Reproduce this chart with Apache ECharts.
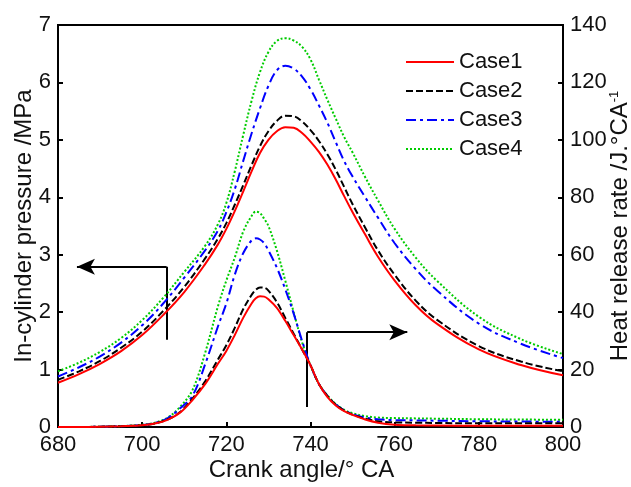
<!DOCTYPE html>
<html>
<head>
<meta charset="utf-8">
<script src="https://cdn.jsdelivr.net/npm/echarts@6/dist/echarts.min.js"></script>
<style>
  html, body { margin: 0; padding: 0; background: #ffffff; }
  #chart { width: 631px; height: 487px; }
</style>
</head>
<body>
<div id="chart"></div>
<script>
// Crank angle samples (°CA) for the in-cylinder pressure curves
const pressureAngle = [680, 685, 690, 695, 700, 705, 710, 715, 718, 720, 722, 724, 726, 728, 730,
  732, 734, 736, 738, 740, 742, 744, 746, 748, 750, 753, 756, 760, 765, 770, 780, 790, 800];

// In-cylinder pressure, MPa
const pressureCase1 = [0.77, 0.92, 1.10, 1.32, 1.60, 1.95, 2.35, 2.84, 3.18, 3.45, 3.76, 4.10, 4.45, 4.77, 5.00,
  5.15, 5.22, 5.21, 5.12, 4.97, 4.79, 4.57, 4.31, 4.02, 3.74, 3.35, 2.97, 2.55, 2.12, 1.80, 1.35, 1.08, 0.90];
const pressureCase2 = [0.82, 0.97, 1.15, 1.38, 1.66, 2.02, 2.44, 2.94, 3.28, 3.55, 3.87, 4.21, 4.56, 4.89, 5.15,
  5.33, 5.42, 5.41, 5.32, 5.17, 4.98, 4.75, 4.48, 4.18, 3.88, 3.47, 3.08, 2.65, 2.20, 1.87, 1.41, 1.14, 0.97];
const pressureCase3 = [0.88, 1.04, 1.23, 1.47, 1.77, 2.15, 2.60, 3.08, 3.42, 3.74, 4.14, 4.63, 5.11, 5.55, 5.94,
  6.21, 6.29, 6.24, 6.10, 5.88, 5.60, 5.30, 4.96, 4.63, 4.36, 4.00, 3.65, 3.20, 2.75, 2.38, 1.80, 1.45, 1.20];
const pressureCase4 = [0.97, 1.12, 1.31, 1.55, 1.86, 2.25, 2.70, 3.16, 3.53, 3.90, 4.45, 5.08, 5.68, 6.18, 6.53,
  6.72, 6.77, 6.73, 6.62, 6.40, 6.05, 5.70, 5.37, 5.05, 4.78, 4.35, 3.95, 3.45, 2.95, 2.55, 1.92, 1.53, 1.27];

// Crank angle samples (°CA) for the heat release rate curves
const hrrAngle = [680, 685, 690, 695, 700, 703, 706, 709, 712, 715, 718, 720, 722, 724, 726, 727, 728, 729, 730,
  732, 734, 736, 738, 740, 742, 744, 746, 748, 750, 753, 756, 760, 765, 770, 780, 790, 800];

// Heat release rate, J/°CA
const hrrCase1 = [0, 0, 0.1, 0.3, 0.6, 1.2, 2.5, 5.0, 9.5, 15, 22, 26.5, 32, 38, 43, 44.8, 45.5, 45.4, 44.5,
  41.5, 37, 32, 27, 21.5, 15, 10.5, 7.5, 5.5, 4.2, 2.6, 1.5, 0.8, 0.6, 0.5, 0.4, 0.4, 0.4];
const hrrCase2 = [0, 0, 0.1, 0.3, 0.6, 1.2, 2.6, 5.2, 10, 16, 23.5, 28.5, 34.5, 41, 46, 47.8, 48.6, 48.5, 47.5,
  43.5, 38, 32.5, 27, 21.5, 15, 10.8, 7.8, 5.7, 4.3, 2.9, 2.0, 1.6, 1.5, 1.4, 1.3, 1.3, 1.3];
const hrrCase3 = [0, 0, 0.1, 0.3, 0.7, 1.4, 3.0, 6.5, 11, 22, 35, 43, 53, 60.5, 65, 65.7, 65.3, 64, 61.5,
  55.5, 48, 39.5, 30, 21.5, 15, 10.8, 7.8, 5.8, 4.5, 3.3, 2.7, 2.4, 2.3, 2.2, 2.0, 1.9, 1.8];
const hrrCase4 = [0, 0, 0.1, 0.3, 0.8, 1.5, 3.2, 7.0, 13, 26, 42, 51, 59, 68, 73.5, 75, 74.5, 72.5, 70,
  61.5, 51, 40, 29.5, 21.5, 15, 11, 8, 6, 4.8, 3.8, 3.3, 3.1, 3.0, 2.9, 2.7, 2.6, 2.5];

const caseNames = ['Case1', 'Case2', 'Case3', 'Case4'];
const pressureData = [pressureCase1, pressureCase2, pressureCase3, pressureCase4];
const hrrData = [hrrCase1, hrrCase2, hrrCase3, hrrCase4];

// Axis ranges and tick steps
const angleMin = 680, angleMax = 800, angleStep = 20;
const pressureMax = 7, pressureStep = 1;
const hrrMax = 140, hrrStep = 20;

// Line appearance per case
const caseColors = ['#ff0000', '#000000', '#0000ff', '#00cc00'];
const caseDash = ['solid', [7, 3], [10, 4, 3, 4], [2, 2]];

// Annotation arrows pointing to each curve family's axis
const leftArrow = { x: 705.8, yLow: 1.52, yHigh: 2.79, tipX: 684.5 };   // pressure axis (MPa)
const rightArrow = { x: 739.2, yLow: 0.35, yHigh: 1.65, tipX: 763.0 };  // drawn in MPa units

const FONT = '"Liberation Sans", Arial, sans-serif';
const TICK_FONT = 22, NAME_FONT = 24;

function pairs(xs, ys) {
  return xs.map((x, i) => [x, ys[i]]);
}

const series = [];
caseNames.forEach((name, k) => {
  const style = { color: caseColors[k], width: 2, type: caseDash[k] };
  series.push({
    name: name,
    type: 'line',
    yAxisIndex: 0,
    data: pairs(pressureAngle, pressureData[k]),
    smooth: 0.4,
    symbol: 'none',
    itemStyle: { color: caseColors[k] },
    lineStyle: style,
    z: 10 - k
  });
  series.push({
    name: name,
    type: 'line',
    yAxisIndex: 1,
    data: pairs(hrrAngle, hrrData[k]),
    smooth: 0.35,
    symbol: 'none',
    itemStyle: { color: caseColors[k] },
    lineStyle: style,
    z: 10 - k
  });
});

// Arrows as mark lines on the first pressure series
series[0].markLine = {
  silent: true,
  animation: false,
  symbol: ['none', 'arrow'],
  symbolSize: [12, 18],
  label: { show: false },
  lineStyle: { color: '#000', width: 2, type: 'solid' },
  emphasis: { disabled: true },
  data: [
    [{ coord: [leftArrow.x, leftArrow.yLow], symbol: 'none' }, { coord: [leftArrow.x, leftArrow.yHigh], symbol: 'none' }],
    [{ coord: [leftArrow.x, leftArrow.yHigh], symbol: 'none' }, { coord: [leftArrow.tipX, leftArrow.yHigh] }],
    [{ coord: [rightArrow.x, rightArrow.yLow], symbol: 'none' }, { coord: [rightArrow.x, rightArrow.yHigh], symbol: 'none' }],
    [{ coord: [rightArrow.x, rightArrow.yHigh], symbol: 'none' }, { coord: [rightArrow.tipX, rightArrow.yHigh] }]
  ]
};

const axisCommon = {
  axisLine: { show: true, lineStyle: { color: '#000', width: 2 } },
  axisTick: { show: true, inside: true, length: 5, lineStyle: { color: '#000', width: 2 } },
  splitLine: { show: false },
  axisLabel: { color: '#111', fontSize: TICK_FONT, fontFamily: FONT, margin: 7 },
  nameTextStyle: { color: '#111', fontSize: NAME_FONT, fontFamily: FONT },
  nameMoveOverlap: false
};

const chart = echarts.init(document.getElementById('chart'), null, { renderer: 'canvas' });
chart.setOption({
  animation: false,
  backgroundColor: '#ffffff',
  textStyle: { fontFamily: FONT },
  grid: {
    left: 58, right: 68, top: 25, bottom: 60,
    containLabel: false,
    outerBoundsMode: 'none',
    show: true, borderColor: '#000', borderWidth: 2, backgroundColor: 'transparent'
  },
  legend: {
    data: caseNames,
    orient: 'vertical',
    left: 400,
    top: 46,
    itemWidth: 48,
    itemHeight: 12,
    itemGap: 7,
    itemStyle: { opacity: 0 },
    textStyle: { color: '#111', fontSize: 22, fontFamily: FONT },
    selectedMode: false
  },
  xAxis: Object.assign({}, axisCommon, {
    type: 'value',
    min: angleMin, max: angleMax, interval: angleStep,
    name: 'Crank angle/° CA',
    nameLocation: 'middle',
    nameGap: 31,
    nameTextStyle: { color: '#111', fontSize: NAME_FONT, fontFamily: FONT, padding: [0, 18, 0, 0] }
  }),
  yAxis: [
    Object.assign({}, axisCommon, {
      type: 'value',
      position: 'left',
      min: 0, max: pressureMax, interval: pressureStep,
      name: 'In-cylinder pressure /MPa',
      nameLocation: 'middle',
      nameRotate: 90,
      nameGap: 22
    }),
    Object.assign({}, axisCommon, {
      type: 'value',
      position: 'right',
      min: 0, max: hrrMax, interval: hrrStep,
      name: '{t|Heat release rate /J.°CA}{s|-1}',
      nameLocation: 'middle',
      nameRotate: 90,
      nameGap: 45,
      nameTextStyle: {
        color: '#111', fontSize: NAME_FONT, fontFamily: FONT,
        rich: {
          t: { fontSize: NAME_FONT, fontFamily: FONT, color: '#111' },
          s: { fontSize: 13, fontFamily: FONT, color: '#111', verticalAlign: 'top', padding: [0, 0, 11, 0] }
        }
      }
    })
  ],
  series: series
});
</script>
</body>
</html>
